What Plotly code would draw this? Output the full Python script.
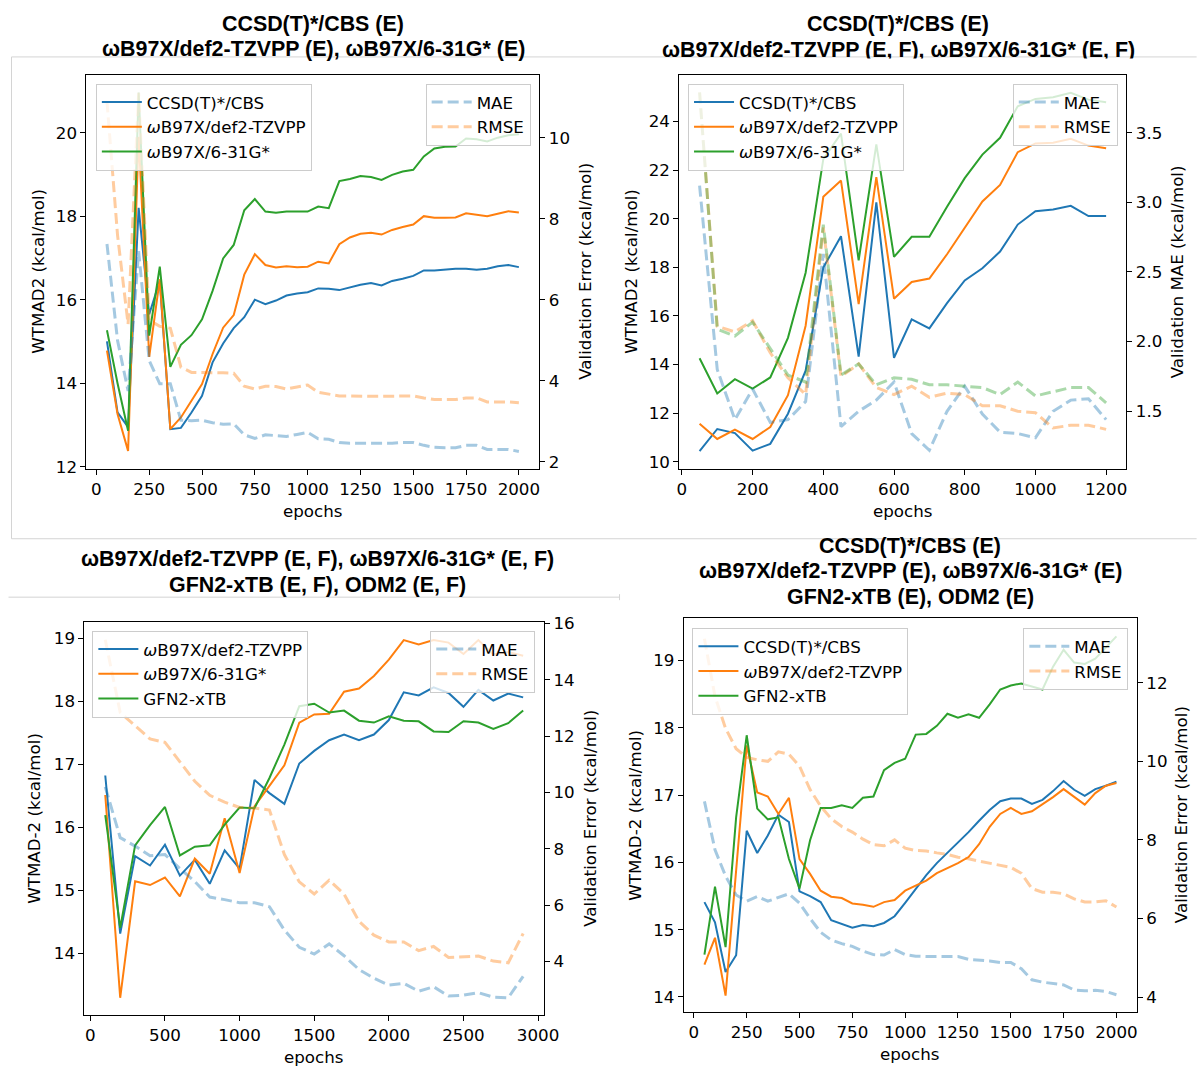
import plotly.graph_objects as go

# ---------------- data ----------------
epochs_p1 = [50, 100, 150, 200, 250, 300, 350, 400, 450, 500, 550, 600, 650, 700, 750, 800, 850, 900, 950, 1000,
             1050, 1100, 1150, 1200, 1250, 1300, 1350, 1400, 1450, 1500, 1550, 1600, 1650, 1700, 1750, 1800, 1850, 1900, 1950, 2000]
p1_ccsd = [15.0, 13.3, 12.95, 18.2, 15.65, 16.45, 12.9, 12.93, 13.3, 13.7, 14.5, 14.95, 15.32, 15.58, 16.0, 15.89, 15.98, 16.1, 16.15, 16.18,
           16.27, 16.26, 16.23, 16.3, 16.36, 16.4, 16.34, 16.45, 16.5, 16.57, 16.7, 16.7, 16.72, 16.74, 16.74, 16.72, 16.74, 16.8, 16.83, 16.78]
p1_def2 = [14.78, 13.26, 12.38, 19.9, 14.63, 16.49, 12.9, 13.18, 13.58, 13.98, 14.7, 15.33, 15.63, 16.6, 17.09, 16.83, 16.77, 16.8, 16.78, 16.79,
           16.91, 16.87, 17.33, 17.49, 17.58, 17.6, 17.56, 17.67, 17.74, 17.8, 18.0, 17.96, 17.96, 17.97, 18.07, 18.04, 18.0, 18.06, 18.12, 18.09]
p1_631 = [15.27, 14.0, 12.86, 20.96, 15.14, 16.79, 14.39, 14.92, 15.15, 15.53, 16.21, 16.99, 17.31, 18.14, 18.41, 18.11, 18.08, 18.11, 18.11, 18.11,
          18.23, 18.19, 18.84, 18.89, 18.96, 18.94, 18.87, 18.99, 19.07, 19.11, 19.43, 19.62, 19.66, 19.67, 19.86, 19.84, 19.79, 19.88, 19.94, 19.96]
p1_mae = [7.38, 5.0, 3.75, 7.2, 4.5, 3.93, 3.93, 3.03, 3.02, 3.03, 2.97, 2.93, 2.94, 2.67, 2.58, 2.67, 2.65, 2.63, 2.68, 2.73,
          2.57, 2.56, 2.48, 2.46, 2.46, 2.46, 2.46, 2.46, 2.48, 2.48, 2.41, 2.36, 2.35, 2.35, 2.41, 2.41, 2.31, 2.31, 2.31, 2.26]
p1_rmse = [10.9, 7.6, 5.4, 11.11, 5.5, 5.35, 5.3, 4.34, 4.21, 4.21, 4.21, 4.2, 4.19, 3.87, 3.8, 3.87, 3.86, 3.8, 3.85, 3.9,
           3.72, 3.68, 3.63, 3.63, 3.62, 3.62, 3.62, 3.62, 3.62, 3.63, 3.58, 3.54, 3.54, 3.54, 3.58, 3.58, 3.48, 3.48, 3.48, 3.46]

epochs_p2 = [50, 100, 150, 200, 250, 300, 350, 400, 450, 500, 550, 600, 650, 700, 750, 800, 850, 900, 950, 1000, 1050, 1100, 1150, 1200]
p2_ccsd = [10.44, 11.35, 11.18, 10.46, 10.74, 11.98, 13.75, 17.99, 19.28, 14.33, 20.67, 14.28, 15.86, 15.49, 16.53, 17.46, 17.96, 18.65, 19.76, 20.31, 20.38, 20.53, 20.11, 20.11]
p2_def2 = [11.57, 10.94, 11.32, 10.94, 11.43, 12.74, 15.6, 20.9, 21.57, 16.49, 21.71, 16.71, 17.4, 17.54, 18.54, 19.63, 20.71, 21.39, 22.74, 23.1, 23.13, 23.29, 23.01, 22.9]
p2_631 = [14.26, 12.81, 13.4, 13.01, 13.47, 15.1, 17.78, 22.45, 23.5, 18.29, 23.06, 18.43, 19.26, 19.26, 20.49, 21.67, 22.64, 23.33, 24.63, 24.93, 25.0, 25.18, 24.9, 24.79]
p2_mae_a = [3.12, 1.8, 1.44, 1.66, 1.42, 1.44, 1.57, 2.63, 1.39, 1.5, 1.58, 1.71, 1.34, 1.22, 1.5, 1.68, 1.48, 1.35, 1.34, 1.31, 1.5, 1.58, 1.59, 1.44]
p2_mae_b = [3.79, 2.11, 2.07, 2.15, 1.92, 1.74, 1.62, 2.82, 1.75, 1.84, 1.67, 1.62, 1.68, 1.6, 1.63, 1.62, 1.54, 1.54, 1.5, 1.49, 1.38, 1.4, 1.4, 1.37]
p2_mae_c = [3.79, 2.09, 2.04, 2.14, 1.95, 1.76, 1.71, 2.84, 1.76, 1.84, 1.69, 1.74, 1.73, 1.69, 1.69, 1.68, 1.67, 1.62, 1.71, 1.61, 1.64, 1.67, 1.67, 1.56]

epochs_p3 = [100, 200, 300, 400, 500, 600, 700, 800, 900, 1000, 1100, 1200, 1300, 1400, 1500, 1600, 1700, 1800, 1900, 2000,
             2100, 2200, 2300, 2400, 2500, 2600, 2700, 2800, 2900]
p3_def2 = [16.82, 14.31, 15.54, 15.39, 15.72, 15.23, 15.48, 15.1, 15.63, 15.34, 16.75, 16.54, 16.37, 17.01, 17.21, 17.38, 17.47, 17.38, 17.47, 17.7,
           18.14, 18.09, 18.22, 18.13, 17.91, 18.18, 18.01, 18.12, 18.06]
p3_631 = [16.51, 13.29, 15.14, 15.08, 15.2, 14.9, 15.5, 15.26, 16.14, 15.27, 16.33, 16.66, 16.98, 17.66, 17.79, 17.8, 18.15, 18.2, 18.4, 18.66,
          18.97, 18.9, 18.97, 18.93, 18.75, 18.97, 18.74, 18.78, 18.72]
p3_gfn2 = [16.19, 14.4, 15.71, 16.03, 16.32, 15.55, 15.69, 15.71, 16.04, 16.31, 16.3, 16.78, 17.31, 17.92, 17.96, 17.82, 17.85, 17.69, 17.66, 17.76,
           17.69, 17.68, 17.52, 17.51, 17.68, 17.66, 17.56, 17.65, 17.85]
p3_mae = [10.2, 8.4, 8.1, 7.76, 7.8, 7.3, 6.84, 6.29, 6.2, 6.09, 6.09, 5.95, 5.12, 4.51, 4.27, 4.63, 4.21, 3.72, 3.41, 3.17,
          3.23, 2.95, 3.11, 2.78, 2.81, 2.9, 2.74, 2.72, 3.48]
p3_rmse = [15.42, 12.84, 12.37, 11.9, 11.78, 11.09, 10.4, 9.9, 9.66, 9.47, 9.45, 9.38, 7.8, 6.83, 6.4, 6.89, 6.4, 5.43, 4.94, 4.7,
           4.7, 4.39, 4.54, 4.15, 4.18, 4.2, 4.02, 3.96, 5.0]

epochs_p4 = epochs_p1
p4_ccsd = [15.41, 15.11, 14.37, 14.62, 16.47, 16.14, 16.4, 16.71, 16.6, 15.57, 15.5, 15.41, 15.14, 15.08, 15.03, 15.07, 15.05, 15.1, 15.2, 15.4,
           15.61, 15.81, 15.99, 16.14, 16.3, 16.45, 16.62, 16.78, 16.91, 16.95, 16.95, 16.87, 16.93, 17.06, 17.21, 17.08, 16.99, 17.09, 17.14, 17.2]
p4_def2 = [14.48, 14.88, 14.02, 15.9, 17.74, 17.04, 16.98, 16.72, 16.96, 16.05, 15.83, 15.58, 15.49, 15.47, 15.39, 15.37, 15.34, 15.41, 15.44, 15.58,
           15.66, 15.73, 15.84, 15.91, 15.99, 16.08, 16.27, 16.53, 16.72, 16.81, 16.72, 16.76, 16.86, 16.97, 17.09, 16.97, 16.86, 17.03, 17.14, 17.18]
p4_gfn2 = [14.63, 15.64, 14.74, 16.67, 17.89, 16.8, 16.64, 16.67, 16.05, 15.61, 16.33, 16.81, 16.81, 16.85, 16.81, 16.96, 16.98, 17.37, 17.48, 17.54,
           17.9, 17.91, 18.03, 18.21, 18.15, 18.2, 18.15, 18.35, 18.57, 18.63, 18.66, 18.62, 18.57, 18.91, 19.16, 18.97, 18.95, 19.03, 19.2, 19.36]
p4_mae = [8.98, 7.75, 7.08, 6.6, 6.44, 6.56, 6.44, 6.54, 6.63, 6.39, 6.0, 5.65, 5.45, 5.36, 5.29, 5.17, 5.08, 5.07, 5.21, 5.08,
          5.04, 5.03, 5.03, 5.03, 5.03, 4.96, 4.94, 4.92, 4.88, 4.88, 4.72, 4.44, 4.38, 4.34, 4.31, 4.18, 4.16, 4.17, 4.14, 4.06]
p4_rmse = [13.12, 11.65, 10.84, 10.32, 10.1, 10.04, 10.0, 10.24, 10.18, 9.88, 9.28, 8.86, 8.54, 8.34, 8.2, 8.02, 7.88, 7.85, 8.0, 7.79,
           7.73, 7.72, 7.67, 7.63, 7.56, 7.52, 7.46, 7.41, 7.35, 7.3, 7.15, 6.76, 6.67, 6.67, 6.63, 6.5, 6.42, 6.42, 6.45, 6.29]

# ---------------- style ----------------
W, H = 1197, 1074
BLUE, ORANGE, GREEN = "#1f77b4", "#ff7f0e", "#2ca02c"
FADED = {BLUE: "rgba(31,119,180,0.4)", ORANGE: "rgba(255,127,14,0.4)", GREEN: "rgba(44,160,44,0.4)"}
DV = "DejaVu Sans, Liberation Sans, sans-serif"
TF = "Liberation Sans, Arial, sans-serif"
FS = 16.7
DASH = "11px,5px"
OMEGA = "<i>ω</i>"

# placement correction (target pixel -> layout pixel)
SC, OX, OY = 0.9865, 1.5, 8.0


def px(x):
    return ((x - OX) / SC) / W


def py(y):
    return 1 - ((y - OY) / SC) / H


fig = go.Figure()

panels = [
    dict(x="x", yl="y", yr="y2", lg_l="legend", lg_r="legend2", epochs=epochs_p1,
         solid=[(p1_ccsd, BLUE, "CCSD(T)*/CBS"), (p1_def2, ORANGE, OMEGA + "B97X/def2-TZVPP"), (p1_631, GREEN, OMEGA + "B97X/6-31G*")],
         dashed=[(p1_mae, BLUE, "MAE", True), (p1_rmse, ORANGE, "RMSE", True)]),
    dict(x="x2", yl="y3", yr="y4", lg_l="legend3", lg_r="legend4", epochs=epochs_p2,
         solid=[(p2_ccsd, BLUE, "CCSD(T)*/CBS"), (p2_def2, ORANGE, OMEGA + "B97X/def2-TZVPP"), (p2_631, GREEN, OMEGA + "B97X/6-31G*")],
         dashed=[(p2_mae_a, BLUE, "MAE", True), (p2_mae_b, ORANGE, "RMSE", True), (p2_mae_c, GREEN, "", False)]),
    dict(x="x3", yl="y5", yr="y6", lg_l="legend5", lg_r="legend6", epochs=epochs_p3,
         solid=[(p3_def2, BLUE, OMEGA + "B97X/def2-TZVPP"), (p3_631, ORANGE, OMEGA + "B97X/6-31G*"), (p3_gfn2, GREEN, "GFN2-xTB")],
         dashed=[(p3_mae, BLUE, "MAE", True), (p3_rmse, ORANGE, "RMSE", True)]),
    dict(x="x4", yl="y7", yr="y8", lg_l="legend7", lg_r="legend8", epochs=epochs_p4,
         solid=[(p4_ccsd, BLUE, "CCSD(T)*/CBS"), (p4_def2, ORANGE, OMEGA + "B97X/def2-TZVPP"), (p4_gfn2, GREEN, "GFN2-xTB")],
         dashed=[(p4_mae, BLUE, "MAE", True), (p4_rmse, ORANGE, "RMSE", True)]),
]

for p in panels:
    for vals, col, name in p["solid"]:
        fig.add_trace(go.Scatter(x=p["epochs"], y=vals, mode="lines", name=name,
                                 line=dict(color=col, width=2), xaxis=p["x"], yaxis=p["yl"],
                                 legend=p["lg_l"], hoverinfo="skip"))
    for vals, col, name, show in p["dashed"]:
        fig.add_trace(go.Scatter(x=p["epochs"], y=vals, mode="lines", name=name, showlegend=show,
                                 line=dict(color=FADED[col], width=3, dash=DASH), xaxis=p["x"], yaxis=p["yr"],
                                 legend=p["lg_r"], hoverinfo="skip"))

frames = [
    (85.0, 538.8, 73.7, 468.9),
    (678.8, 1126.7, 73.7, 469.0),
    (83.0, 543.4, 622.0, 1015.2),
    (683.4, 1137.3, 618.2, 1012.8),
]
xranges = [[-47.5, 2097.5], [-7.5, 1257.5], [-40, 3040], [-47.5, 2097.5]]
xticks = [[0, 250, 500, 750, 1000, 1250, 1500, 1750, 2000],
          [0, 200, 400, 600, 800, 1000, 1200],
          [0, 500, 1000, 1500, 2000, 2500, 3000],
          [0, 250, 500, 750, 1000, 1250, 1500, 1750, 2000]]
ylranges = [[11.94, 21.39], [9.69, 25.93], [13.02, 19.255], [13.771, 19.628]]
ylticks = [[12, 14, 16, 18, 20], [10, 12, 14, 16, 18, 20, 22, 24], [14, 15, 16, 17, 18, 19], [14, 15, 16, 17, 18, 19]]
yrranges = [[1.82, 11.56], [1.083, 3.917], [2.115, 16.046], [3.61, 13.64]]
yrticks = [[2, 4, 6, 8, 10], [1.5, 2.0, 2.5, 3.0, 3.5], [4, 6, 8, 10, 12, 14, 16], [4, 6, 8, 10, 12]]
yrfmt = ["", ".1f", "", ""]

common = dict(showline=True, linecolor="black", linewidth=1, ticks="outside", ticklen=5, tickwidth=1,
              tickcolor="black", showgrid=False, zeroline=False,
              tickfont=dict(family=DV, size=FS, color="black"))

for i, p in enumerate(panels):
    l, r, t, b = frames[i]
    xk = "xaxis" if p["x"] == "x" else "xaxis" + p["x"][1:]
    ylk = "yaxis" if p["yl"] == "y" else "yaxis" + p["yl"][1:]
    yrk = "yaxis" + p["yr"][1:]
    fig.update_layout(**{
        xk: dict(domain=[px(l), px(r)], anchor=p["yl"], range=xranges[i], tickvals=xticks[i], mirror=True, **common),
        ylk: dict(domain=[py(b), py(t)], anchor=p["x"], range=ylranges[i], tickvals=ylticks[i], **common),
        yrk: dict(overlaying=p["yl"], side="right", anchor=p["x"], range=yrranges[i], tickvals=yrticks[i],
                  tickformat=yrfmt[i], **common),
    })

leg_common = dict(bgcolor="rgba(255,255,255,0.8)", bordercolor="#cccccc", borderwidth=1, itemwidth=40,
                  font=dict(family=DV, size=FS, color="black"), yanchor="top", traceorder="normal")
legend_pos = {
    "legend": (94.5, 82.8, "left"), "legend2": (530.0, 82.8, "right"),
    "legend3": (687.6, 82.8, "left"), "legend4": (1118.0, 82.8, "right"),
    "legend5": (91.0, 630.6, "left"), "legend6": (534.6, 630.6, "right"),
    "legend7": (692.0, 627.8, "left"), "legend8": (1128.6, 627.8, "right"),
}
for k, (lx, ly, anc) in legend_pos.items():
    fig.update_layout(**{k: dict(x=px(lx), y=py(ly), xanchor=anc, **leg_common)})

ann = []


def add_text(text, x, y, size=FS, family=DV, angle=0, bold=False):
    ann.append(dict(text=("<b>%s</b>" % text) if bold else text, x=px(x), y=py(y), xref="paper", yref="paper",
                    showarrow=False, xanchor="center", yanchor="middle", textangle=angle,
                    font=dict(family=family, size=size, color="black")))


titles = [
    (312, ["CCSD(T)*/CBS (E)", "ωB97X/def2-TZVPP (E), ωB97X/6-31G* (E)"], [23.5, 48.5]),
    (898, ["CCSD(T)*/CBS (E)", "ωB97X/def2-TZVPP (E, F), ωB97X/6-31G* (E, F)"], [23.5, 49.5]),
    (316, ["ωB97X/def2-TZVPP (E, F), ωB97X/6-31G* (E, F)", "GFN2-xTB (E, F), ODM2 (E, F)"], [559.0, 585.0]),
    (910, ["CCSD(T)*/CBS (E)", "ωB97X/def2-TZVPP (E), ωB97X/6-31G* (E)", "GFN2-xTB (E), ODM2 (E)"], [545.3, 571.1, 596.9]),
]
for cx, lines, ys in titles:
    for line, yy in zip(lines, ys):
        add_text(line, cx, yy, size=21.4, family=TF, bold=True)

# the reference screenshot cuts off the bottom of the 2nd title line of the top-right panel
ann.append(dict(text=" ", x=px(898), y=py(64.5), xref="paper", yref="paper", showarrow=False,
                xanchor="center", yanchor="middle", width=590, height=13, bgcolor="white", borderpad=0,
                font=dict(size=8)))

labels = [
    (36.6, 271, "WTMAD2 (kcal/mol)", 583.6, "Validation Error (kcal/mol)", 312, 510.5),
    (629.7, 271, "WTMAD2 (kcal/mol)", 1177.0, "Validation MAE (kcal/mol)", 903, 510.5),
    (32.5, 818, "WTMAD-2 (kcal/mol)", 589.4, "Validation Error (kcal/mol)", 313, 1057.5),
    (634.3, 815, "WTMAD-2 (kcal/mol)", 1180.7, "Validation Error (kcal/mol)", 910, 1054.8),
]
for lx, cy, ltxt, rx, rtxt, xx, xy in labels:
    add_text(ltxt, lx, cy, angle=-90)
    add_text(rtxt, rx, cy, angle=-90)
    add_text("epochs", xx, xy)

shapes = []
grey = dict(color="#d4d4d4", width=1)
for x0, y0, x1, y1 in [(10, 56, 1197, 56), (10, 56, 10, 538.5), (10, 538.5, 1197, 538.5),
                       (7, 597, 619, 597), (619, 594, 619, 600)]:
    shapes.append(dict(type="line", xref="paper", yref="paper", x0=px(x0), y0=py(y0), x1=px(x1), y1=py(y1),
                       line=grey, layer="below"))

fig.update_layout(autosize=True, margin=dict(l=0, r=0, t=0, b=0, pad=0), paper_bgcolor="white",
                  plot_bgcolor="rgba(0,0,0,0)", annotations=ann, shapes=shapes, showlegend=True)

post = ("document.documentElement.style.margin='0';document.documentElement.style.padding='0';"
        "document.documentElement.style.overflow='hidden';"
        "document.body.style.margin='0';document.body.style.padding='0';document.body.style.overflow='hidden';"
        "var gd=document.getElementById('{plot_id}');gd.style.width='100vw';gd.style.height='100vh';"
        "Plotly.Plots.resize(gd);")

fig.write_html("out.html", default_width="100vw", default_height="100vh",
               config={"displayModeBar": False, "responsive": True}, post_script=post)
